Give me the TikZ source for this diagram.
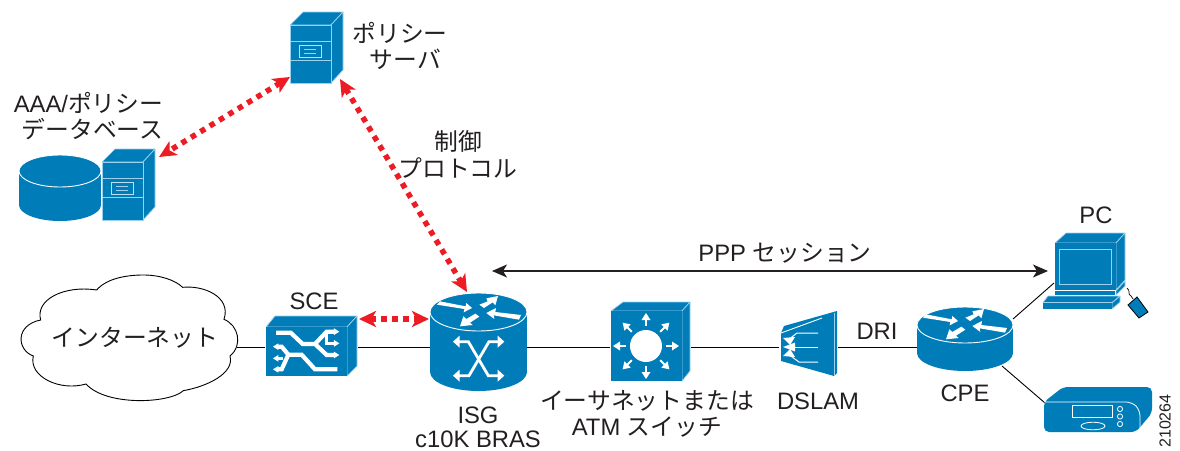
\documentclass[tikz,border=0pt]{standalone}
\usepackage{fontspec}
\setmainfont{Liberation Sans}
\newfontfamily\jp{Noto Sans CJK JP}
\usetikzlibrary{arrows.meta}
\definecolor{ciscoblue}{HTML}{007DB9}
\definecolor{edgeblue}{HTML}{9CD0EC}
\definecolor{inkblack}{HTML}{231F20}
\definecolor{alertred}{HTML}{ED1C24}
\tikzset{
  lbl/.style={text=inkblack,inner sep=0pt,align=center,font=\fontsize{23.8}{26.5}\selectfont},
  wire/.style={draw=black,line width=0.9pt},
  ctrl/.style={draw=alertred,line width=5.5pt,dash pattern=on 5.5pt off 5.5pt,
    {Stealth[length=17pt,width=16pt,inset=4.5pt,fill=alertred]}-{Stealth[length=17pt,width=16pt,inset=4.5pt,fill=alertred]}},
  ppp/.style={draw=inkblack,line width=1.3pt,
    {Stealth[length=15pt,width=13pt,inset=4pt]}-{Stealth[length=15pt,width=13pt,inset=4pt]}},
  face/.style={fill=ciscoblue,draw=edgeblue,line width=0.7pt,line join=round},
  ico/.style={draw=white,line width=4.2pt,line join=miter},
  icothin/.style={draw=white,line width=2.8pt,line join=miter},
}
% server tower: #1,#2 = top-left corner of the front face
\newcommand\towericon[2]{
  \begin{scope}[shift={(#1,#2)}]
    \path[face] (0,0) -- (13,-13) -- (53,-13) -- (41,0) -- cycle;
    \path[face] (41,0) -- (53,-13) -- (53,45) -- (41,58) -- cycle;
    \path[face] (0,0) rectangle (41,58);
    \draw[edgeblue,line width=0.8pt] (0,16) -- (41,16) (0,35) -- (41,35);
    \draw[edgeblue!70!white,line width=0.9pt] (9,20) rectangle (31,32);
    \draw[edgeblue,line width=0.7pt] (14,24) -- (26,24) (14,28) -- (26,28);
  \end{scope}
}
% router top: #1,#2 = centre of the top ellipse
\newcommand\routerarrows[2]{
  \begin{scope}[shift={(#1,#2)},x=0.3333pt,y=-0.3333pt,shift={(-162,-82)}]
    \fill[white] (36,60) -- (45,50) -- (122,65) -- (124,55) -- (141,70) -- (116,83) -- (118,73) -- cycle;
    \fill[white] (163,60) -- (188,50) -- (184,41) -- (219,34) -- (211,62) -- (203,53) -- (177,70) -- cycle;
    \fill[white] (288,91) -- (282,105) -- (206,92) -- (208,103) -- (184,85) -- (213,70) -- (211,82) -- cycle;
    \fill[white] (151,87) -- (163,96) -- (135,114) -- (143,121) -- (105,125) -- (115,95) -- (124,103) -- cycle;
  \end{scope}
}
\begin{document}
\begin{tikzpicture}[x=1pt,y=-1pt]
\useasboundingbox (0,0) rectangle (1180,450);

% ---------- anchors for the devices ----------
\coordinate (cloudR) at (237,347);
\coordinate (sceL) at (265,347);
\coordinate (sceR) at (358,347);
\coordinate (isgL) at (430,347);
\coordinate (isgR) at (527,347);
\coordinate (swL) at (610,347);
\coordinate (swR) at (691,347);
\coordinate (dsL) at (779,347);
\coordinate (dsR) at (838,347);
\coordinate (cpeL) at (917,347);
\coordinate (cpeA) at (1013,319);
\coordinate (pcP) at (1054,283);
\coordinate (cpeB) at (1002,366);
\coordinate (devP) at (1045,403);
\coordinate (polA) at (290,77);
\coordinate (dbA) at (159,157);
\coordinate (polB) at (340,79);
\coordinate (isgT) at (467,292);
\coordinate (sceA) at (359,319);
\coordinate (isgA) at (429,319);
\coordinate (pppL) at (492,271);
\coordinate (pppR) at (1048,271);

% ---------- connectors ----------
\draw[wire] (cloudR) -- (sceL);
\draw[wire] (sceR) -- (isgL);
\draw[wire] (isgR) -- (swL);
\draw[wire] (swR) -- (dsL);
\draw[wire] (dsR) -- (cpeL);
\draw[wire] (cpeA) -- (pcP);
\draw[wire] (cpeB) -- (devP);
\draw[ctrl] (polA) -- (dbA);
\draw[ctrl] (polB) -- (isgT);
\draw[ctrl] (sceA) -- (isgA);
\draw[ppp] (pppL) -- (pppR);

% ---------- cloud ----------
\begin{scope}[shift={(0,270)},x=0.3333pt,y=-0.3333pt]
  \draw[fill=white,draw=black,line width=0.9pt]
    (290,60) .. controls (320,25) and (380,15) .. (430,15)
    .. controls (480,15) and (525,30) .. (548,52)
    .. controls (610,45) and (695,80) .. (672,148)
    .. controls (715,165) and (730,225) .. (690,258)
    .. controls (705,310) and (620,350) .. (550,362)
    .. controls (510,400) and (320,410) .. (258,342)
    .. controls (180,365) and (85,320) .. (100,258)
    .. controls (50,240) and (45,165) .. (122,150)
    .. controls (105,90) and (190,45) .. (290,60) -- cycle;
\end{scope}

% ---------- servers and database ----------
\towericon{290}{25}
\fill[ciscoblue] (19,171) rectangle (101,205);
\fill[ciscoblue] (60,205) ellipse[x radius=41,y radius=16];
\path[fill=ciscoblue,draw=white,line width=0.9pt] (60,171) ellipse[x radius=41,y radius=16];
\towericon{102}{162}

% ---------- SCE ----------
\path[face] (266,327) -- (275,316) -- (357,316) -- (347,327) -- cycle;
\path[face] (347,327) -- (357,316) -- (357,366) -- (347,376) -- cycle;
\path[fill=ciscoblue] (266,327) rectangle (347,376);
\begin{scope}[shift={(260,290)},x=0.3333pt,y=-0.3333pt]
  \draw[ico] (48,128) -- (92,128) -- (128,162) -- (165,162) -- (200,125) -- (225,125);
  \draw[icothin] (200,125) -- (200,160) -- (225,160);
  \draw[ico] (165,162) -- (200,195) -- (225,195);
  \draw[ico] (232,238) -- (165,238) -- (125,194) -- (85,194) -- (65,170) -- (50,170);
  \draw[icothin] (68,205) -- (50,205);
  \draw[ico] (85,194) -- (65,238) -- (50,238);
  \fill[white] (222,115) -- (238,125) -- (222,135) -- cycle;
  \fill[white] (222,150) -- (238,160) -- (222,170) -- cycle;
  \fill[white] (222,185) -- (238,195) -- (222,205) -- cycle;
  \fill[white] (55,160) -- (39,170) -- (55,180) -- cycle;
  \fill[white] (55,195) -- (39,205) -- (55,215) -- cycle;
  \fill[white] (55,228) -- (39,238) -- (55,248) -- cycle;
\end{scope}

% ---------- ISG ----------
\fill[ciscoblue] (430,312) rectangle (527,372);
\fill[ciscoblue] (478.5,372) ellipse[x radius=48.5,y radius=19];
\path[fill=ciscoblue,draw=white,line width=0.9pt] (478.5,312) ellipse[x radius=48.5,y radius=19];
\routerarrows{479}{312}
\begin{scope}[shift={(425,285)},x=0.3333pt,y=-0.3333pt]
  \draw[icothin] (100,170) -- (130,170) -- (190,272) -- (222,272);
  \draw[icothin] (222,170) -- (192,170) -- (132,272) -- (100,272);
  \fill[white] (104,152) -- (84,170) -- (104,188) -- cycle;
  \fill[white] (218,152) -- (238,170) -- (218,188) -- cycle;
  \fill[white] (104,254) -- (84,272) -- (104,290) -- cycle;
  \fill[white] (218,254) -- (238,272) -- (218,290) -- cycle;
\end{scope}

% ---------- switch ----------
\path[face] (611,311) -- (623,302) -- (690,302) -- (682,311) -- cycle;
\path[face] (682,311) -- (690,302) -- (690,371) -- (682,381) -- cycle;
\path[fill=ciscoblue] (611,311) rectangle (682,381);
\fill[white] (646,346) circle[radius=16];
\foreach \a in {0,45,...,315}{
  \begin{scope}[shift={(646,346)},rotate=\a]
    \draw[white,line width=2pt] (20,0) -- (27,0);
    \fill[white] (26,-4.5) -- (33,0) -- (26,4.5) -- cycle;
  \end{scope}
}

% ---------- DSLAM ----------
\path[fill=ciscoblue] (784,326) -- (837,311) -- (837,373) -- (834,376) -- (781,361) -- (781,333) -- cycle;
\draw[edgeblue,line width=0.7pt] (834,313) -- (834,376);
\draw[white,line width=0.9pt] (822,318) -- (781,333);
\draw[white,line width=1pt] (818,333) -- (797,333) -- (788,340);
\draw[white,line width=1pt] (818,347) -- (790,347);
\draw[white,line width=1pt] (818,362) -- (799,362) -- (788,354);
\fill[white] (783,338) -- (795,337) -- (790,345) -- cycle;
\fill[white] (783,347) -- (795,342.5) -- (795,351.5) -- cycle;
\fill[white] (783,356) -- (795,357) -- (790,349) -- cycle;

% ---------- CPE ----------
\fill[ciscoblue] (917,325) rectangle (1013,353);
\fill[ciscoblue] (965,353) ellipse[x radius=48,y radius=18];
\path[fill=ciscoblue,draw=white,line width=0.9pt] (965,325) ellipse[x radius=48,y radius=18];
\routerarrows{965}{325}

% ---------- PC ----------
\path[face] (1055,243) -- (1066,233) -- (1125,233) -- (1116,243) -- cycle;
\path[face] (1116,243) -- (1125,233) -- (1125,280) -- (1116,290) -- cycle;
\path[fill=ciscoblue] (1055,243) rectangle (1116,290);
\draw[edgeblue,line width=1pt] (1059,249) rectangle (1111,284);
\path[face] (1116,291) -- (1125,281) -- (1125,286) -- (1116,295) -- cycle;
\path[fill=ciscoblue] (1055,291) rectangle (1115,295);
\path[face] (1043,302.5) -- (1048,296) -- (1120,296) -- (1112,302.5) -- cycle;
\path[face] (1112,303) -- (1120,296) -- (1120,302) -- (1112,309) -- cycle;
\path[fill=ciscoblue] (1043,303) rectangle (1112,309);
\draw[black,line width=0.7pt] (1127,288) .. controls (1131,291) and (1127,294) .. (1131,296) -- (1133,299);
\path[fill=ciscoblue,draw=black,line width=0.8pt] (1137,297) -- (1148,312) -- (1139,318) -- (1128,305) -- cycle;

% ---------- CPE device ----------
\path[fill=ciscoblue,rounded corners=5pt] (1044,402) -- (1063,387) -- (1152,387) -- (1152,413) -- (1136,432) -- (1044,432) -- cycle;
\draw[white,line width=0.8pt,rounded corners=6pt] (1044,402) -- (1132,402) -- (1140,410) -- (1140,433);
\draw[white,line width=0.8pt] (1072,405) rectangle (1112,417);
\draw[white,line width=0.8pt] (1120,409) circle[radius=2.6] (1120,416.5) circle[radius=2.6] (1120,424) circle[radius=2.6];
\draw[white,line width=0.8pt] (1093,426) ellipse[x radius=12,y radius=3.8];

% ---------- labels ----------
\node[lbl] (tpolicy) at (400,46) {{\jp ポリシー}\\{\jp\ \ サーバ}};
\node[lbl,align=right,anchor=north east] (tdb) at (163.5,92) {AAA/{\jp ポリシー}\\{\jp データベース}};
\node[lbl] (tctrl) at (458,154.5) {{\jp 制御}\\{\jp プロトコル}};
\node[lbl] (tppp) at (785,253) {PPP {\jp セッション}};
\node[lbl] (tpc) at (1096,215) {PC};
\node[lbl] (tsce) at (314,301) {SCE};
\node[lbl] (tdri) at (877,331) {DRI};
\node[lbl] (tcpe) at (965,393) {CPE};
\node[lbl] (tisg) at (478,415) {ISG};
\node[lbl] (tbras) at (478,439.5) {c10K BRAS};
\node[lbl] (tsw) at (647,414) {{\jp イーサネットまたは}\\ATM {\jp スイッチ}};
\node[lbl] (tds) at (818,401) {DSLAM};
\node[lbl] (tnet) at (135,338) {\jp インターネット};
\node[lbl,rotate=90,font=\fontsize{16}{18}\selectfont] (tfig) at (1165,421) {210264};
\end{tikzpicture}
\end{document}
